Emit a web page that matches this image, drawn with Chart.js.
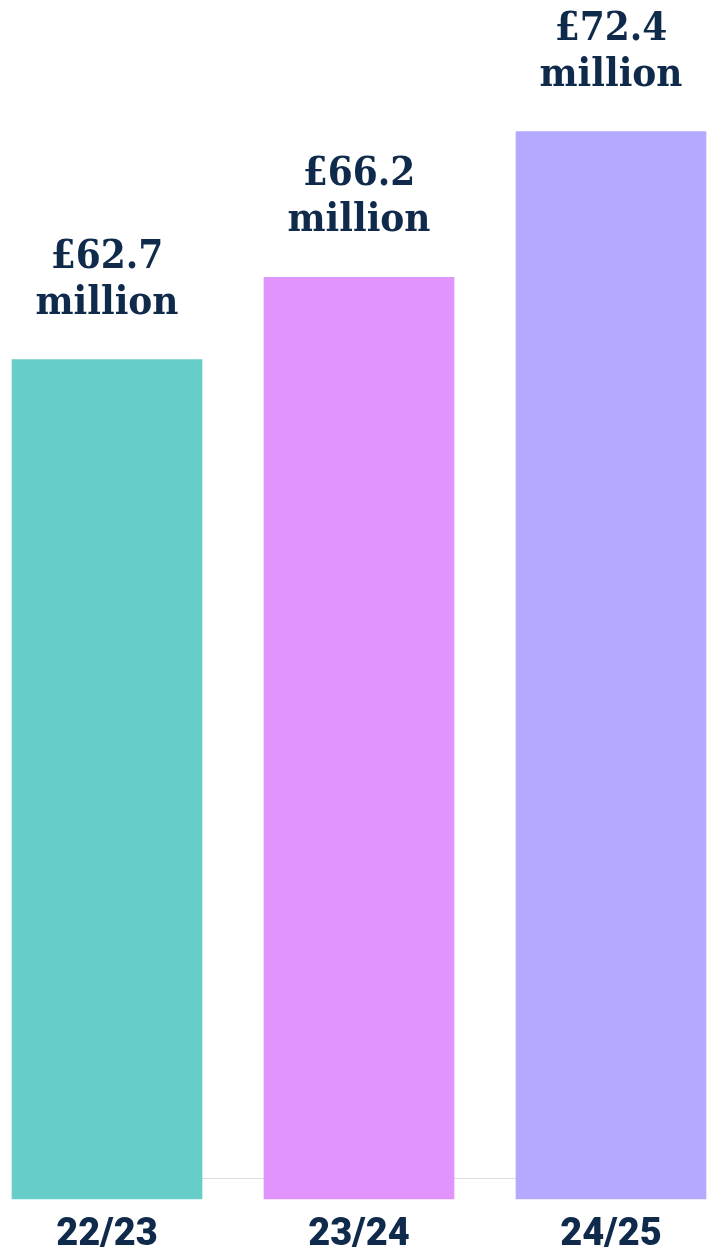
<!DOCTYPE html>
<html>
<head>
<meta charset="utf-8">
<script src="https://cdn.jsdelivr.net/npm/chart.js@4/dist/chart.umd.min.js"></script>
<style>
  body { margin: 0; background: #fff; }
  canvas { display: block; }
</style>
</head>
<body>
<canvas id="bar-chart" width="713" height="1250"></canvas>
<script>
// data
const years = ['22/23', '23/24', '24/25'];
const funding = [62.7, 66.2, 72.4]; // £ million
const unitLabel = 'million';

const navy = '#102a4c';
const barColours = ['#66cdc8', '#e194fe', '#b3a9fe'];
const axisMin = 27, axisMax = 78;

// baseline rule that sits a bit above the bar bottoms
const baseLine = {
  id: 'baseLine',
  beforeDatasetsDraw(chart) {
    const bars = chart.getDatasetMeta(0).data;
    const first = bars[0], last = bars[bars.length - 1];
    const ctx = chart.ctx;
    const y = chart.chartArea.bottom - 20.5;
    ctx.save();
    ctx.strokeStyle = '#dcdcdc';
    ctx.lineWidth = 1;
    ctx.beginPath();
    ctx.moveTo(first.x - first.width / 2, y);
    ctx.lineTo(last.x + last.width / 2, y);
    ctx.stroke();
    ctx.restore();
  }
};

// "£62.7 / million" labels above each bar
const valueLabels = {
  id: 'valueLabels',
  afterDatasetsDraw(chart) {
    const ctx = chart.ctx;
    const bars = chart.getDatasetMeta(0).data;
    ctx.save();
    ctx.fillStyle = navy;
    ctx.textAlign = 'center';
    ctx.textBaseline = 'alphabetic';
    ctx.font = "bold 40px 'DejaVu Serif Condensed', 'DejaVu Serif', serif";
    bars.forEach((bar, i) => {
      ctx.fillText('£' + funding[i].toFixed(1), bar.x, bar.y - 92);
      ctx.fillText(unitLabel, bar.x, bar.y - 46);
    });
    ctx.restore();
  }
};

new Chart(document.getElementById('bar-chart'), {
  type: 'bar',
  data: {
    labels: years,
    datasets: [{
      data: funding,
      base: axisMin,
      backgroundColor: barColours,
      barThickness: 190,
      borderWidth: 0,
      clip: false
    }]
  },
  options: {
    responsive: false,
    animation: false,
    layout: { padding: { left: 107, right: 102, top: 0, bottom: 0 } },
    plugins: {
      legend: { display: false },
      tooltip: { enabled: false }
    },
    scales: {
      x: {
        offset: false,
        grid: { display: false, drawTicks: false },
        border: { display: false },
        ticks: {
          color: navy,
          padding: 14,
          font: { family: 'Roboto', weight: '900', size: 38 },
          maxRotation: 0
        },
        afterFit(axis) { axis.height = 51; }
      },
      y: {
        display: false,
        min: axisMin,
        max: axisMax
      }
    }
  },
  plugins: [baseLine, valueLabels]
});
</script>
</body>
</html>
